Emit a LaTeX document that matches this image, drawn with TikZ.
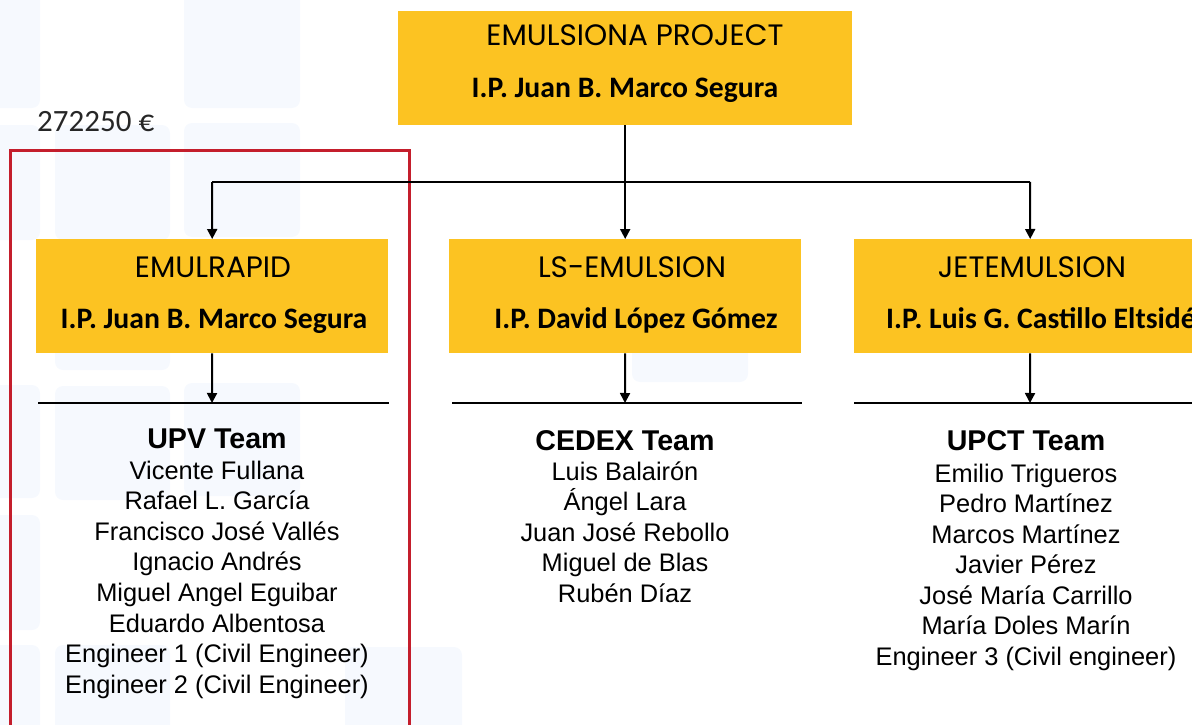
\documentclass[tikz,border=0pt]{standalone}
\usepackage{fontspec}
\setmainfont{Liberation Sans}
\newfontfamily\calib{Carlito}
\newfontfamily\gothic{Poppins}
\usetikzlibrary{arrows.meta}
\definecolor{gold}{HTML}{FCC322}
\definecolor{tilec}{HTML}{F6F9FE}
\definecolor{redline}{HTML}{C41E2C}
\definecolor{amount}{HTML}{262626}
\begin{document}
\begin{tikzpicture}[x=1pt,y=-1pt,
  tile/.style={fill=tilec, draw=none, rounded corners=8pt},
  ybox/.style={fill=gold, draw=none, inner sep=0pt, anchor=north west},
  ttl/.style={anchor=base, inner sep=0pt, font=\gothic\fontsize{29.5}{32}\selectfont},
  pil/.style={anchor=base, inner sep=0pt, font=\calib\bfseries\fontsize{29.7}{32}\selectfont},
  team/.style={anchor=base, inner sep=0pt, font=\bfseries\fontsize{28.6}{32}\selectfont},
  member/.style={anchor=base, inner sep=0pt, font=\fontsize{25.4}{30}\selectfont},
  conn/.style={draw=black, line width=2pt},
  arr/.style={conn, -{Triangle[width=10pt,length=10pt]}},
  rule/.style={draw=black, line width=2pt}
]
\useasboundingbox (0,0) rectangle (1192,725);
\clip (0,0) rectangle (1192,725);
% background tiles
\foreach \xa/\ya/\xb/\yb in {-75/-20/40/108, 184/-20/300/108, -75/125/40/240, 55/125/170/240, 55/255/170/370, 184/123/300/237, -75/385/40/498, 55/386/170/500, 184/383/300/496, -75/515/40/630, -75/645/40/780, 55/645/170/780, 345/647/462/780, 632/267/748/382}
  \fill[tile] (\xa,\ya) rectangle (\xb,\yb);

% amount and red frame
\node[anchor=base west, inner sep=0pt, font=\calib\fontsize{31}{34}\selectfont, text=amount] (amt) at (37,131) {272250 €};
\coordinate (rf1) at (10,760);
\coordinate (rf2) at (10,150.5);
\coordinate (rf3) at (409.5,150.5);
\coordinate (rf4) at (409.5,760);
\draw[redline, line width=3pt] (rf1) -- (rf2) -- (rf3) -- (rf4);

% boxes
\node[ybox, minimum width=454pt, minimum height=114pt] (top) at (398,11) {};
\node[ybox, minimum width=352pt, minimum height=114pt] (emul) at (36,239) {};
\node[ybox, minimum width=352pt, minimum height=114pt] (ls) at (449,239) {};
\node[ybox, minimum width=352pt, minimum height=114pt] (jet) at (854,239) {};

\node[ttl] (topT) at (635,46) {EMULSIONA PROJECT};
\node[pil] (topP) at (625,97) {I.P. Juan B. Marco Segura};
\node[ttl] (emulT) at (213,277) {EMULRAPID};
\node[pil] (emulP) at (214,328) {I.P. Juan B. Marco Segura};
\node[ttl] (lsT) at (632,277) {LS-EMULSION};
\node[pil] (lsP) at (636,328) {I.P. David López Gómez};
\node[ttl] (jetT) at (1032,277) {JETEMULSION};
\node[pil] (jetP) at (1041,328) {I.P. Luis G. Castillo Eltsidé};

% connectors top
\coordinate (hl) at (212,182);
\coordinate (hr) at (1030,182);
\draw[conn] (hl) -- (hr);
\draw[arr] (top.south) -- (ls.north);
\draw[arr] (hl) -- (emul.north);
\draw[arr] (hr) -- (jet.north);

% rules under boxes
\coordinate (r1l) at (38,403);  \coordinate (r1r) at (389,403);  \coordinate (r1m) at (212,403);
\coordinate (r2l) at (452,403); \coordinate (r2r) at (802,403);  \coordinate (r2m) at (625,403);
\coordinate (r3l) at (854,403); \coordinate (r3r) at (1200,403); \coordinate (r3m) at (1030,403);
\draw[rule] (r1l) -- (r1r);
\draw[rule] (r2l) -- (r2r);
\draw[rule] (r3l) -- (r3r);
\draw[arr] (emul.south) -- (r1m);
\draw[arr] (ls.south) -- (r2m);
\draw[arr] (jet.south) -- (r3m);

% teams
\node[team] (upv) at (217,448) {UPV Team};
\foreach \t [count=\i] in {Vicente Fullana, Rafael L. García, Francisco José Vallés, Ignacio Andrés, Miguel Angel Eguibar, Eduardo Albentosa, Engineer 1 (Civil Engineer), Engineer 2 (Civil Engineer)}
  \node[member] (upv-\i) at (217,479+30.6*\i-30.6) {\t};

\node[team] (cedex) at (625,450) {CEDEX Team};
\foreach \t [count=\i] in {Luis Balairón, Ángel Lara, Juan José Rebollo, Miguel de Blas, Rubén Díaz}
  \node[member] (cedex-\i) at (625,480+30.5*\i-30.5) {\t};

\node[team] (upct) at (1026,450) {UPCT Team};
\foreach \t [count=\i] in {Emilio Trigueros, Pedro Martínez, Marcos Martínez, Javier Pérez, José María Carrillo, María Doles Marín, Engineer 3 (Civil engineer)}
  \node[member] (upct-\i) at (1026,482+30.5*\i-30.5) {\t};
\end{tikzpicture}
\end{document}
